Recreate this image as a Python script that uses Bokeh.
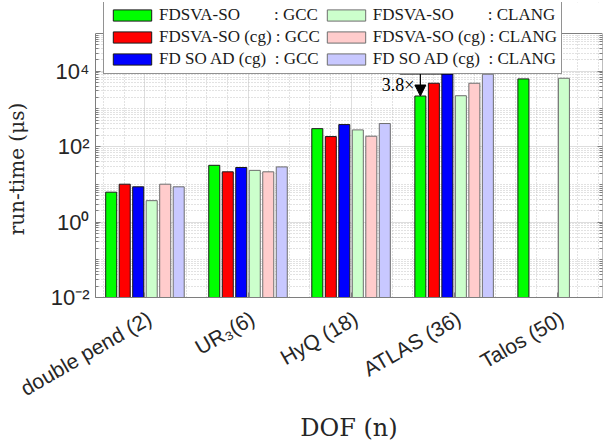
import math
from bokeh.plotting import figure
from bokeh.models import (ColumnDataSource, FixedTicker, Legend, LegendItem, LinearAxis,
                          LogAxis, Arrow, NormalHead, Label, BoxAnnotation)
from bokeh.embed import file_html
from bokeh.resources import INLINE

# ---------------- data ----------------
categories = ["double pend (2)", "UR\u2083(6)", "HyQ (18)", "ATLAS (36)", "Talos (50)"]
x_positions = [1, 2, 3, 4, 5]
nan = float("nan")

fdsva_gcc = [6.2, 32.0, 300.0, 2200.0, 6250.0]
fdsva_cg_gcc = [10.1, 21.5, 185.0, 4800.0, nan]
fdsoad_cg_gcc = [8.6, 28.0, 385.0, 8500.0, nan]
fdsva_clang = [3.7, 23.5, 278.0, 2240.0, 6500.0]
fdsva_cg_clang = [10.1, 21.5, 189.0, 4800.0, nan]
fdsoad_cg_clang = [8.6, 29.0, 410.0, 8320.0, nan]

series_labels = [
    "FDSVA-SO" + "\u00a0" * 8 + ": GCC",
    "FDSVA-SO (cg) : GCC",
    "FD SO AD (cg)" + "\u00a0" * 2 + ": GCC",
    "FDSVA-SO" + "\u00a0" * 8 + ": CLANG",
    "FDSVA-SO (cg) : CLANG",
    "FD SO AD (cg)" + "\u00a0" * 2 + ": CLANG",
]
series_values = [fdsva_gcc, fdsva_cg_gcc, fdsoad_cg_gcc,
                 fdsva_clang, fdsva_cg_clang, fdsoad_cg_clang]
fill_colors = ["#00ff00", "#ff0000", "#0000ff", "#ccffcc", "#ffcccc", "#c8c8ff"]
line_colors = ["#1a1a1a", "#1a1a1a", "#1a1a1a", "#6e6e6e", "#6e6e6e", "#6e6e6e"]

y_major = [1e-2, 1e0, 1e2, 1e4]
y_major_labels = ["10\u207b\u00b2", "10\u2070", "10\u00b2", "10\u2074"]
speedup_text = "3.8\u00d7"
y_label_text = "run-time (\u03bcs)"
x_label_text = "DOF (n)"

# ---------------- figure ----------------
y_bottom = 1e-2
y_top = 1e5
decade_px = (297 - 33) / 7.0
y_end = 10 ** (5 + (33 - 2) / decade_px)   # frame extends above the box for the legend
p = figure(width=605, height=447, x_range=(0.52, 5.44), y_range=(y_bottom, y_end),
           y_axis_type="log", output_backend="svg", toolbar_location=None,
           min_border_left=95, min_border_right=3, min_border_top=2,
           min_border_bottom=150)
p.background_fill_color = "white"
p.border_fill_color = "white"
p.outline_line_color = None

pitch = 0.131
bar_w = 0.107
renderers = []
for i, vals in enumerate(series_values):
    xs = [x + (i - 2.5) * pitch for x in x_positions]
    src = ColumnDataSource(dict(x=xs, top=vals, bottom=[y_bottom] * len(vals)))
    r = p.vbar(x="x", top="top", bottom="bottom", width=bar_w, source=src,
               fill_color=fill_colors[i], line_color=line_colors[i], line_width=1)
    renderers.append(r)

# ---------------- ticks & grid ----------------
y_minor = []
for k in range(-2, 5):
    for m in range(1, 10):
        if m == 1 and k % 2 == 0:
            continue
        y_minor.append(m * 10.0 ** k)
y_ticker = FixedTicker(ticks=y_major, minor_ticks=y_minor)
x_minor = []
for j in range(25):
    v = round(0.6 + 0.2 * j, 3)
    if abs(v - round(v)) > 1e-6:
        x_minor.append(v)
x_ticker = FixedTicker(ticks=x_positions, minor_ticks=x_minor)

p.yaxis.ticker = y_ticker
p.yaxis.bounds = (y_bottom, y_top)
p.yaxis.major_label_overrides = {v: s for v, s in zip(y_major, y_major_labels)}
p.xaxis.ticker = x_ticker
p.xaxis.major_label_overrides = {x: "" for x in x_positions}

for ax in (p.xaxis, p.yaxis):
    ax.axis_line_color = "#7f7f7f"
    ax.major_tick_line_color = "#7f7f7f"
    ax.minor_tick_line_color = "#7f7f7f"
    ax.major_tick_in = 5
    ax.major_tick_out = 0
    ax.minor_tick_in = 3
    ax.minor_tick_out = 0
    ax.major_label_text_font = "Liberation Sans"
    ax.major_label_text_color = "#262626"
    ax.axis_label_text_font = "DejaVu Serif"
    ax.axis_label_text_font_style = "normal"
    ax.axis_label_text_color = "#262626"
p.xaxis.minor_tick_line_color = None
p.xaxis.major_label_text_font_size = "1px"
p.xaxis.major_label_standoff = 0
p.yaxis.major_label_text_font_size = "22px"
# trailing no-break spaces push the visible label down to the box centre
p.yaxis.axis_label = y_label_text + "\u00a0" * 6
p.yaxis.axis_label_text_font_size = "20px"
p.yaxis.major_label_standoff = 6
p.yaxis.axis_label_standoff = 19

# rotated category labels on a second (label-only) bottom axis
label_shift = -0.045
cat_ticks = [x - label_shift for x in x_positions]
cat_axis = LinearAxis(ticker=FixedTicker(ticks=cat_ticks),
                      major_label_overrides={t: c for t, c in zip(cat_ticks, categories)},
                      major_label_orientation=math.pi / 6,
                      major_label_text_font="Liberation Sans", major_label_text_font_size="21px",
                      major_label_text_color="#262626", major_label_standoff=13,
                      axis_line_color=None, major_tick_line_color=None, minor_tick_line_color=None,
                      axis_label=x_label_text, axis_label_text_font="DejaVu Serif",
                      axis_label_text_font_style="normal", axis_label_text_font_size="24px",
                      axis_label_text_color="#262626", axis_label_standoff=1)
p.add_layout(cat_axis, "below")

right_axis = LogAxis(ticker=FixedTicker(ticks=y_major, minor_ticks=y_minor), axis_line_color=None,
                     bounds=(y_bottom, y_top),
                     major_tick_in=5, major_tick_out=0, minor_tick_in=3, minor_tick_out=0,
                     major_tick_line_color="#7f7f7f", minor_tick_line_color="#7f7f7f",
                     major_label_overrides={v: "" for v in y_major},
                     major_label_text_font_size="1px", major_label_standoff=0)
p.add_layout(right_axis, "right")

for g, tk in ((p.xgrid, x_ticker), (p.ygrid, y_ticker)):
    g.ticker = tk
    g.grid_line_color = "#dedede"
    g.grid_line_width = 1
    g.minor_grid_line_color = "#c4c4c4"
    g.minor_grid_line_dash = "1 2"
    g.minor_grid_line_width = 1

# white strip above the plot box (room for the legend) and the box outline
p.add_layout(BoxAnnotation(bottom=y_top, fill_color="white", fill_alpha=1.0, line_color=None))
p.add_layout(BoxAnnotation(top=y_top, fill_alpha=0.0, fill_color=None,
                           line_color="#7f7f7f", line_width=1, line_alpha=1.0))

# ---------------- annotation ----------------
atlas = 3  # index of ATLAS group
x_green = x_positions[atlas] + (0 - 2.5) * pitch
x_blue_right = x_positions[atlas] + (2 - 2.5) * pitch + bar_w / 2
top_blue = fdsoad_cg_gcc[atlas]
top_green = fdsva_gcc[atlas]
p.segment(x0=[x_green - 0.2], x1=[x_blue_right], y0=[top_blue], y1=[top_blue],
          line_color="black", line_width=1.2)
p.add_layout(Arrow(end=NormalHead(size=11, fill_color="black", line_color="black"),
                   x_start=x_green, y_start=top_blue, x_end=x_green, y_end=top_green,
                   line_color="black", line_width=1.2))
p.add_layout(Label(x=x_green - bar_w / 2 - 0.005, y=math.sqrt(top_blue * top_green),
                   text=speedup_text, text_align="right", text_baseline="middle",
                   text_font="Liberation Serif", text_font_size="18px", text_color="black"))

# ---------------- legend ----------------
legend = Legend(items=[LegendItem(label=lbl, renderers=[r])
                       for lbl, r in zip(series_labels, renderers)],
                location=(8, 223), ncols=2, orientation="vertical",
                label_text_font="Liberation Serif", label_text_font_size="17px",
                label_text_color="#1a1a1a",
                glyph_width=48, glyph_height=14, label_height=18, label_standoff=3,
                spacing=2, padding=4, margin=0,
                border_line_color="#262626", border_line_width=1,
                background_fill_color="white", background_fill_alpha=1.0)
p.add_layout(legend, "center")

open("out.html", "w").write(file_html(p, INLINE))
